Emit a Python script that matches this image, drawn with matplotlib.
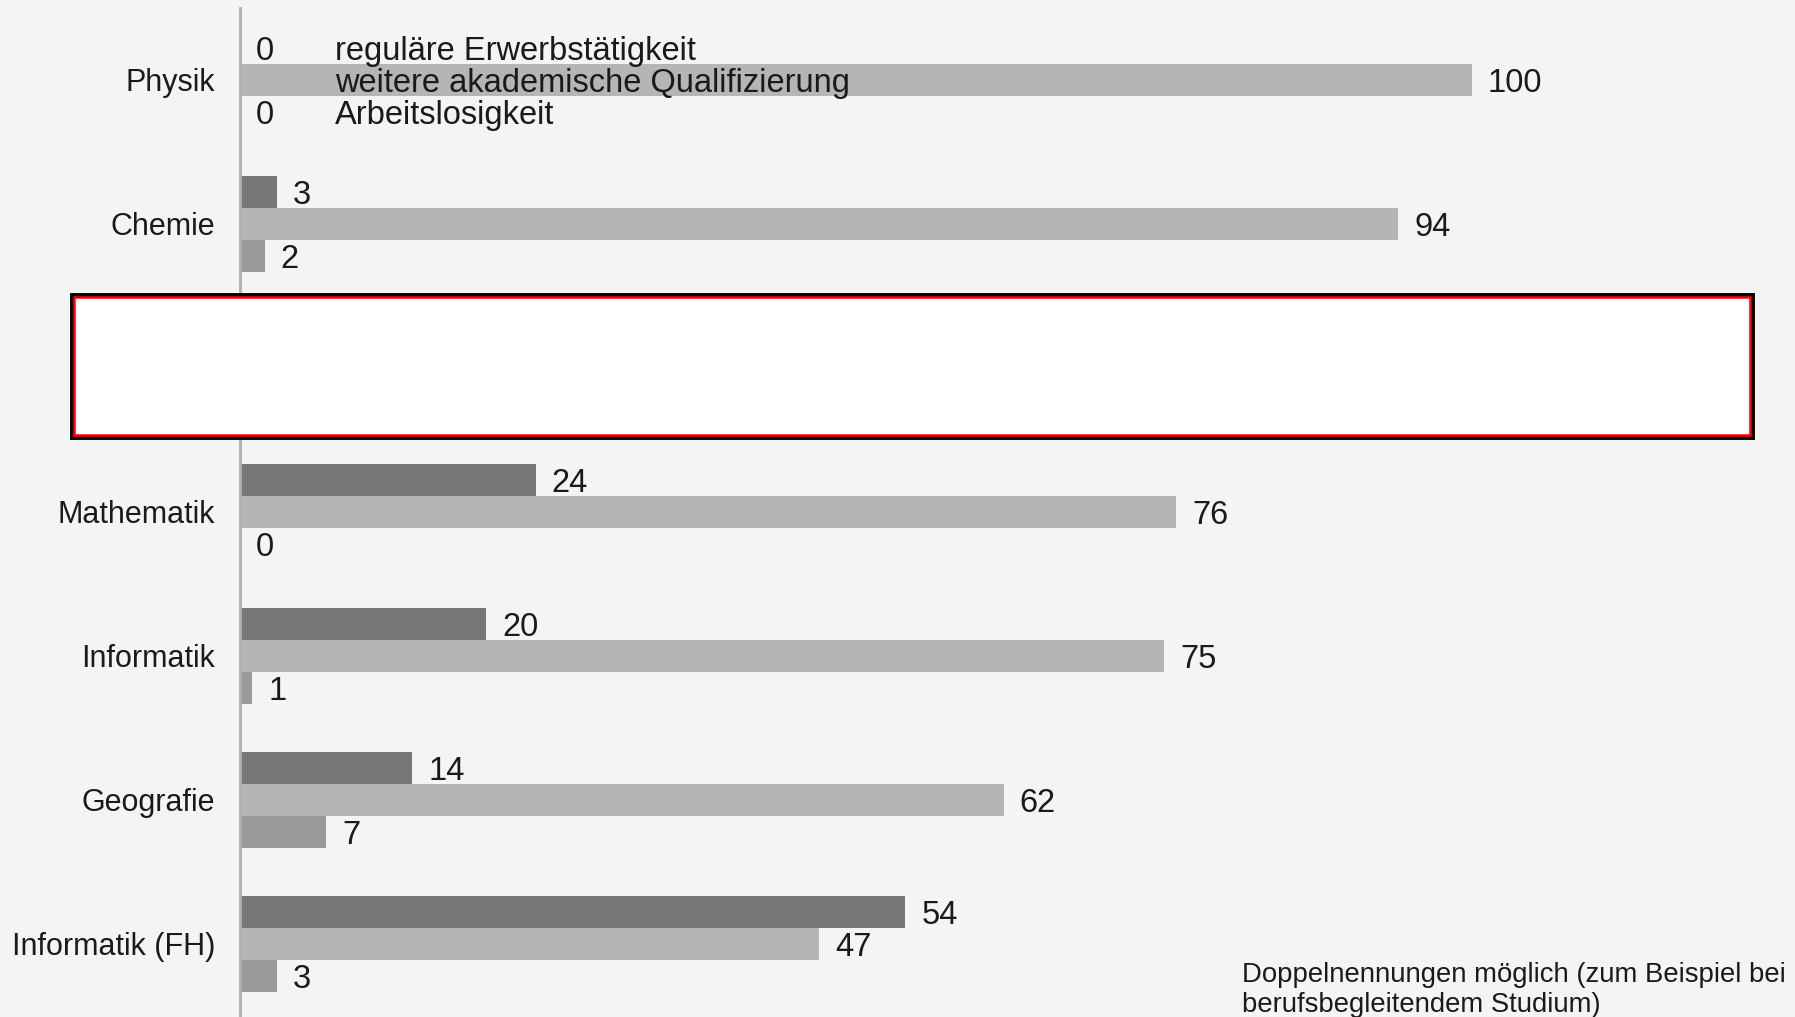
import numpy as np
import matplotlib.pyplot as plt
from matplotlib.patches import Rectangle

# Daten (Prozent) - die dritte Zeile ist im Original verdeckt
categories = ['Physik', 'Chemie', '', 'Mathematik', 'Informatik', 'Geografie', 'Informatik (FH)']
erwerb = [0, 3, np.nan, 24, 20, 14, 54]
akadem = [100, 94, np.nan, 76, 75, 62, 47]
arbeitslos = [0, 2, np.nan, 0, 1, 7, 3]

series_names = ['reguläre Erwerbstätigkeit',
                'weitere akademische Qualifizierung',
                'Arbeitslosigkeit']
colors = ['#777777', '#b5b5b5', '#999999']
note = 'Doppelnennungen möglich (zum Beispiel bei\nberufsbegleitendem Studium)'

plt.rcParams['font.family'] = ['Liberation Sans', 'DejaVu Sans']
bg = '#f4f4f4'
txt = '#1a1a1a'

fig = plt.figure(figsize=(17.95, 10.17), dpi=100, facecolor=bg)
ax = fig.add_axes([240 / 1795, 0, 1232 / 1795, 1 - 8 / 1017])
ax.set_facecolor(bg)

y = np.arange(len(categories))
h = 0.222
for vals, off, col in zip([erwerb, akadem, arbeitslos], [-h, 0, h], colors):
    ax.barh(y + off, vals, height=h, color=col)
    for yi, v in zip(y, vals):
        if np.isnan(v):
            continue
        ax.annotate(f'{v:g}', (v, yi + off), xytext=(11.5, -2.2), textcoords='offset points',
                    va='center', ha='left', fontsize=23.5, color=txt)

# Legende als Text in der Physik-Zeile
for name, off in zip(series_names, [-h, 0, h]):
    ax.annotate(name, (7.7, 0 + off), xytext=(0, -2.2), textcoords='offset points',
                va='center', ha='left', fontsize=23.5, color=txt)

ax.set_xlim(0, 100)
ax.set_ylim(6.507, -0.5)
ax.set_yticks(y)
ax.set_yticklabels(categories, fontsize=22, color=txt)
ax.tick_params(axis='y', length=0, pad=18)
ax.set_xticks([])
for s in ['top', 'right', 'bottom']:
    ax.spines[s].set_visible(False)
ax.spines['left'].set_color('#b0b0b0')
ax.spines['left'].set_linewidth(2)

fig.text(1242 / 1795, 1 - 990 / 1017, note, fontsize=19.8, color=txt,
         va='center', ha='left', linespacing=1.2)

# verdeckter Bereich
fig.patches.append(Rectangle((72 / 1795, 1 - 437 / 1017), 1680 / 1795, 142 / 1017,
                             transform=fig.transFigure, facecolor='white',
                             edgecolor='black', linewidth=3.5, zorder=10))
fig.patches.append(Rectangle((74 / 1795, 1 - 435 / 1017), 1676 / 1795, 138 / 1017,
                             transform=fig.transFigure, facecolor='white',
                             edgecolor='red', linewidth=1.8, zorder=11))

fig.savefig('out.png', dpi=100, facecolor=bg)
